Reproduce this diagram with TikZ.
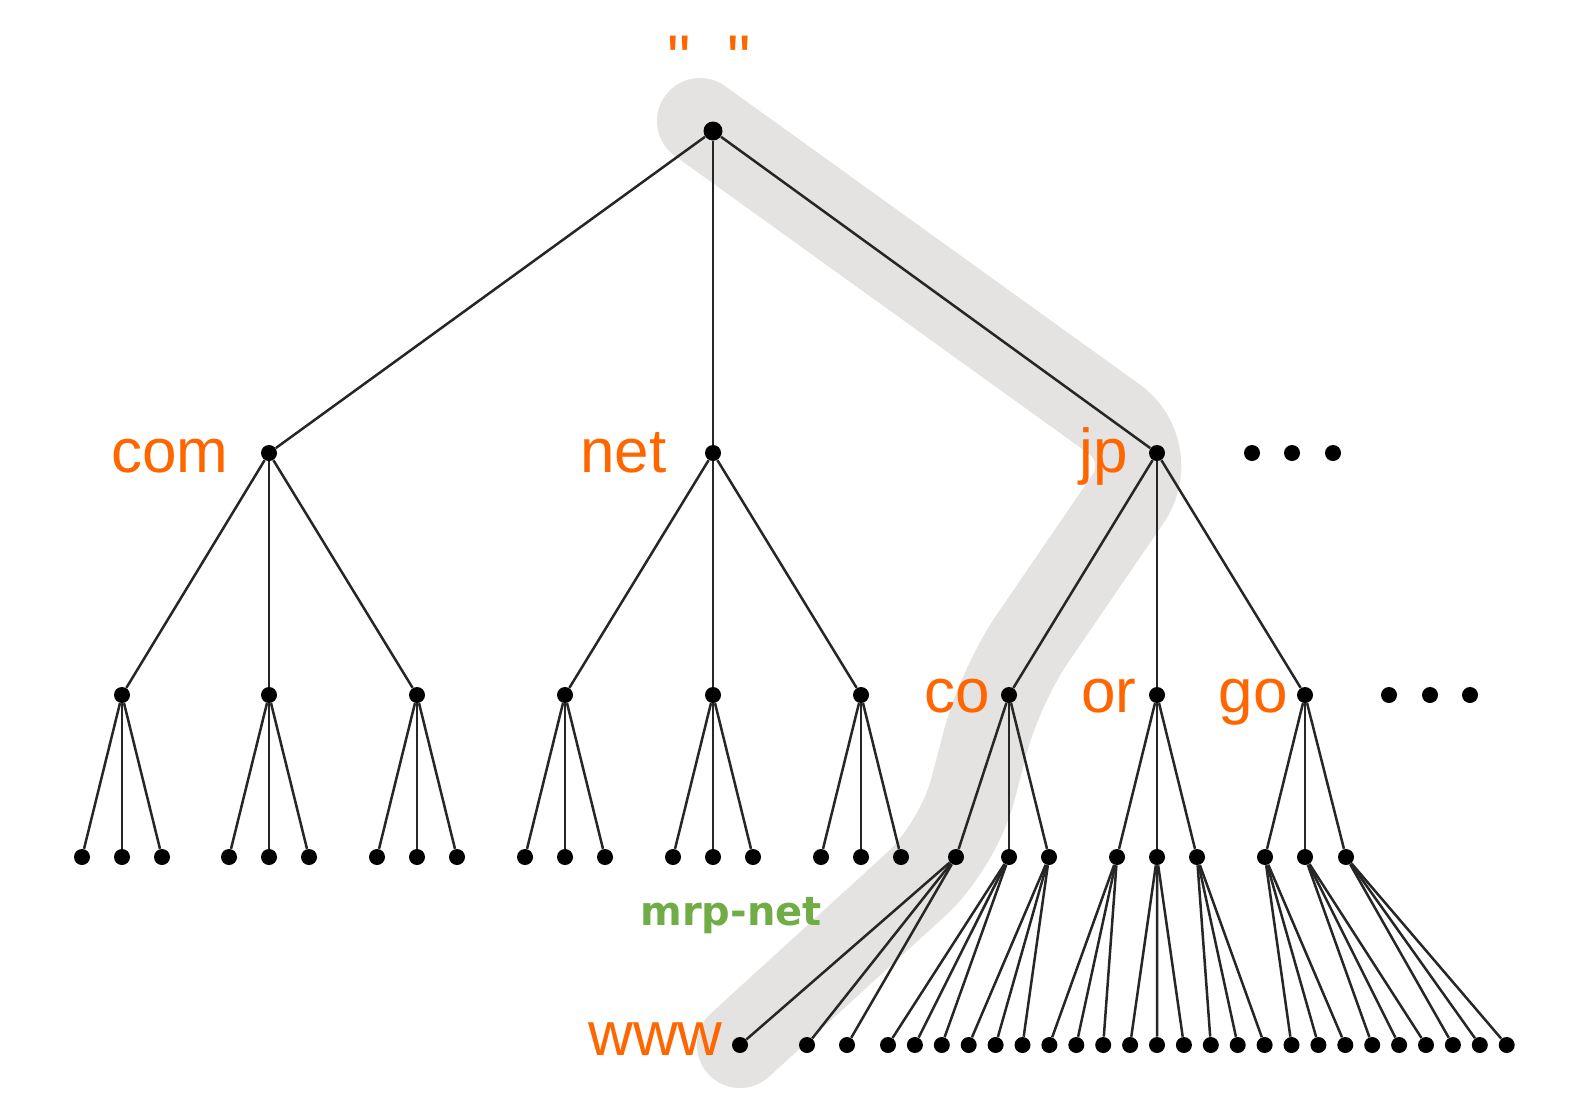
\documentclass[tikz,border=0pt]{standalone}
\usepackage{fontspec}
\newfontfamily\labfont{Liberation Sans}
\newfontfamily\grnfont{DejaVu Sans}
\definecolor{lbl}{HTML}{FF6600}
\definecolor{grn}{HTML}{70AD47}
\definecolor{bandc}{HTML}{E4E3E1}
\begin{document}
\begin{tikzpicture}[x=0.5pt,y=-0.5pt,
  dot/.style={circle,fill=black,inner sep=0pt,minimum size=8pt},
  rootdot/.style={dot,minimum size=9.5pt},
  edge/.style={draw=black!85,line width=1.25pt},
  lab/.style={text=lbl,font=\labfont\fontsize{31}{31}\selectfont,inner sep=0pt},
  hl/.style={draw=bandc,line width=43pt,line cap=round,line join=round,rounded corners=28pt}]
\useasboundingbox (0,0) rectangle (1580,1109);
% highlighted path
\draw[hl] (700,121) -- (1160,452) -- (1000,686) -- (958,846) -- (740,1045);
% root and first level
\node[rootdot] (r) at (713,131) {};
\node[dot] (com) at (269,453) {};
\node[dot] (net) at (713,453) {};
\node[dot] (jp) at (1157,453) {};
% second level
\foreach \n/\x in {1/122,2/269,3/417,4/565,5/713,6/861,7/1009,8/1157,9/1305}
  \node[dot] (a\n) at (\x,695) {};
% third level
\foreach \n/\x in {1/82,2/122,3/162,4/229,5/269,6/309,7/377,8/417,9/457,
                   10/525,11/565,12/605,13/673,14/713,15/753,16/821,17/861,18/901,
                   19/956,20/1009,21/1049,22/1117,23/1157,24/1197,25/1265,26/1305,27/1346}
  \node[dot] (b\n) at (\x,857) {};
% leaves
\node[dot] (l1) at (740,1045) {};
\node[dot] (l2) at (807,1045) {};
\node[dot] (l3) at (847,1045) {};
\foreach \k in {0,...,23}{
  \pgfmathsetmacro\xx{888+26.9*\k}
  \pgfmathtruncatemacro\nn{\k+4}
  \node[dot] (l\nn) at (\xx,1045) {};
}
% ellipsis dots
\node[dot] (e1) at (1252,453) {};
\node[dot] (e2) at (1292,453) {};
\node[dot] (e3) at (1333,453) {};
\node[dot] (f1) at (1389,695) {};
\node[dot] (f2) at (1430,695) {};
\node[dot] (f3) at (1470,695) {};
% edges
\draw[edge] (r) -- (com);
\draw[edge] (r) -- (net);
\draw[edge] (r) -- (jp);
\draw[edge] (com) -- (a1); \draw[edge] (com) -- (a2); \draw[edge] (com) -- (a3);
\draw[edge] (net) -- (a4); \draw[edge] (net) -- (a5); \draw[edge] (net) -- (a6);
\draw[edge] (jp) -- (a7);  \draw[edge] (jp) -- (a8);  \draw[edge] (jp) -- (a9);
\foreach \i in {1,...,9}{
  \pgfmathtruncatemacro\ba{3*\i-2}
  \pgfmathtruncatemacro\bb{3*\i-1}
  \pgfmathtruncatemacro\bc{3*\i}
  \draw[edge] (a\i) -- (b\ba);
  \draw[edge] (a\i) -- (b\bb);
  \draw[edge] (a\i) -- (b\bc);
}
\foreach \i in {19,...,27}{
  \pgfmathtruncatemacro\la{3*(\i-19)+1}
  \pgfmathtruncatemacro\lb{3*(\i-19)+2}
  \pgfmathtruncatemacro\lc{3*(\i-19)+3}
  \draw[edge] (b\i) -- (l\la);
  \draw[edge] (b\i) -- (l\lb);
  \draw[edge] (b\i) -- (l\lc);
}
% labels
\node[lab,font=\labfont\fontsize{33}{33}\selectfont,anchor=base] (q) at (709,81) {"\hspace{18.3pt}"};
\node[lab,anchor=base east] (tcom) at (229,472) {com};
\node[lab,anchor=base east] (tnet) at (667,472) {net};
\node[lab,anchor=base east] (tjp) at (1128,472) {jp};
\node[lab,anchor=base east] (tco) at (990,712) {co};
\node[lab,anchor=base east] (tor) at (1137,712) {or};
\node[lab,anchor=base east] (tgo) at (1288,712) {go};
\node[lab,anchor=base east] (twww) at (723,1055) {www};
\node[text=grn,font=\grnfont\bfseries\fontsize{20}{20}\selectfont,inner sep=0pt,anchor=base west] (tmrp) at (640,925) {mrp-net};
\end{tikzpicture}
\end{document}
